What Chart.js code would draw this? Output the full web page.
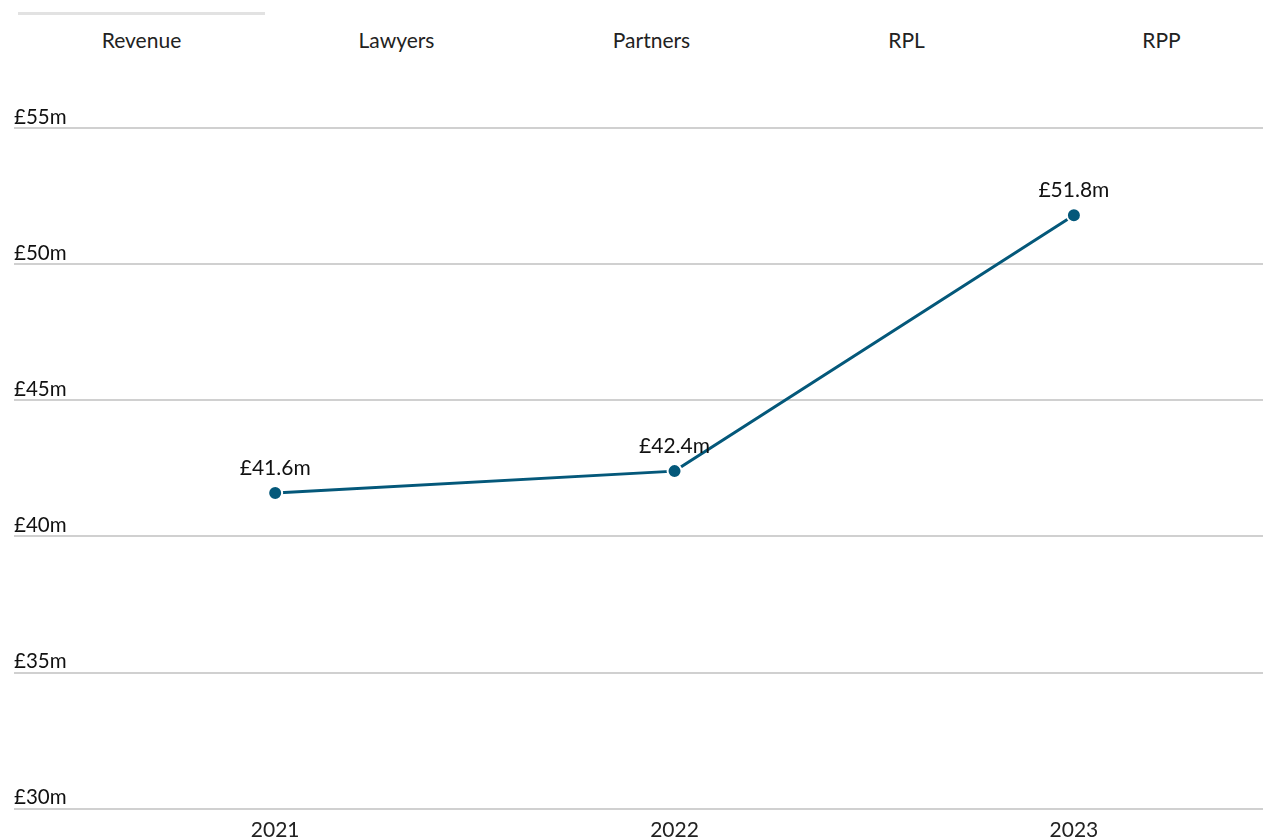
<!DOCTYPE html>
<html>
<head>
<meta charset="utf-8">
<script src="https://cdn.jsdelivr.net/npm/chart.js@4"></script>
<style>
  html, body { margin: 0; padding: 0; background: #fff; font-family: Lato, sans-serif; }
  .wrap { position: relative; width: 1263px; height: 837px; overflow: hidden; }
  .tabs { position: absolute; left: 14px; top: 0; height: 70px; width: 1275px; }
  .tab { position: absolute; top: 27px; width: 255px; text-align: center; font-size: 21px; color: #222; }
  .tab-bar { position: absolute; left: 18px; top: 12px; width: 247px; height: 3px; background: #e2e2e2; }
  #chart { position: absolute; left: 0; top: 0; }
</style>
</head>
<body>
<div class="wrap">
  <div class="tab-bar"></div>
  <div class="tabs" id="tabs"></div>
  <canvas id="chart" width="1273" height="844"></canvas>
</div>
<script>
// tabs + data
const tabNames = ['Revenue', 'Lawyers', 'Partners', 'RPL', 'RPP'];
const years = [2021, 2022, 2023];
const revenue = [41.6, 42.4, 51.8];
const yTicks = [30, 35, 40, 45, 50, 55];

const LINE = '#04587a';

const tabsEl = document.getElementById('tabs');
tabNames.forEach((t, i) => {
  const d = document.createElement('div');
  d.className = 'tab';
  d.style.left = (i * 255) + 'px';
  d.textContent = t;
  tabsEl.appendChild(d);
});

// value labels above points
const pointLabels = {
  id: 'pointLabels',
  afterDatasetsDraw(chart) {
    const ctx = chart.ctx;
    const meta = chart.getDatasetMeta(0);
    ctx.save();
    ctx.fillStyle = '#111';
    ctx.font = '21px Lato';
    ctx.textAlign = 'center';
    ctx.textBaseline = 'alphabetic';
    meta.data.forEach((p, i) => {
      ctx.fillText('£' + revenue[i].toFixed(1) + 'm', p.x, p.y - 18);
    });
    ctx.restore();
  }
};

new Chart(document.getElementById('chart'), {
  type: 'line',
  data: {
    datasets: [{
      data: years.map((y, i) => ({ x: y, y: revenue[i] })),
      borderColor: LINE,
      borderWidth: 3,
      pointRadius: 7,
      pointBackgroundColor: LINE,
      pointBorderColor: '#fff',
      pointBorderWidth: 2,
      tension: 0
    }]
  },
  options: {
    responsive: false,
    animation: false,
    layout: { padding: { left: 14, right: 0, top: 128, bottom: 0 } },
    plugins: { legend: { display: false }, tooltip: { enabled: false } },
    scales: {
      x: {
        type: 'linear',
        min: 2020.346,
        max: 2023.476,
        grid: { display: false },
        border: { display: false },
        afterBuildTicks: (s) => { s.ticks = years.map(v => ({ value: v })); },
        ticks: {
          color: '#222',
          font: { family: 'Lato', size: 21 },
          padding: 1,
          maxRotation: 0,
          callback: (v) => String(v)
        }
      },
      y: {
        min: 30,
        max: 55,
        afterBuildTicks: (s) => { s.ticks = yTicks.map(v => ({ value: v })); },
        grid: { color: '#d0d0d0', lineWidth: 2, drawTicks: false },
        border: { display: false },
        ticks: {
          mirror: true,
          padding: 0,
          labelOffset: -11,
          color: '#111',
          font: { family: 'Lato', size: 20.5 },
          callback: (v) => '£' + v + 'm'
        }
      }
    }
  },
  plugins: [pointLabels]
});
</script>
</body>
</html>
